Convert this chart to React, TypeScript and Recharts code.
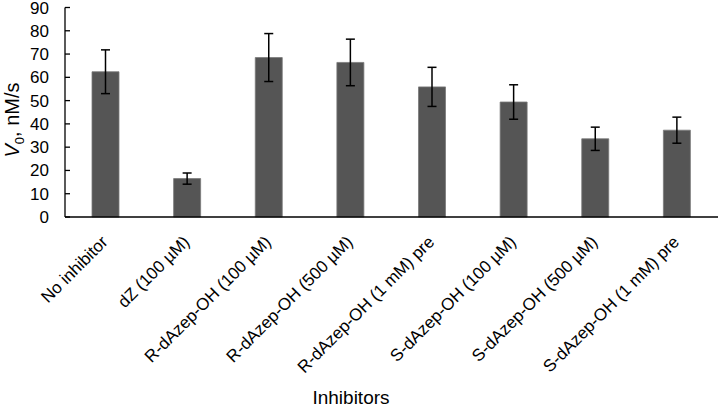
import React from 'react';
import { BarChart, Bar, XAxis, YAxis, ErrorBar, Label } from 'recharts';

const categories = [
  'No inhibitor',
  'dZ (100 µM)',
  'R-dAzep-OH (100 µM)',
  'R-dAzep-OH (500 µM)',
  'R-dAzep-OH (1 mM) pre',
  'S-dAzep-OH (100 µM)',
  'S-dAzep-OH (500 µM)',
  'S-dAzep-OH (1 mM) pre',
];
const v0Values = [62.4, 16.5, 68.5, 66.4, 55.9, 49.4, 33.6, 37.3];
const v0Errors = [9.4, 2.4, 10.3, 10.0, 8.4, 7.4, 5.0, 5.6];
const yTicks = [0, 10, 20, 30, 40, 50, 60, 70, 80, 90];

const data = categories.map((name, i) => ({ name, v0: v0Values[i], err: v0Errors[i] }));

const FONT = '"Liberation Sans", Arial, sans-serif';

const XTick = (props: any) => {
  const { x, y, payload } = props;
  const tx = x + 3;
  const ty = y + 26;
  return (
    <text
      x={tx}
      y={ty}
      transform={`rotate(-45, ${tx}, ${ty})`}
      textAnchor="end"
      fontSize={17}
      fontFamily={FONT}
      fill="#000"
    >
      {payload.value}
    </text>
  );
};

const YTitle = () => (
  <text
    x={0}
    y={0}
    transform="translate(18.5, 120) rotate(-90)"
    textAnchor="middle"
    fontSize={20}
    fontFamily={FONT}
    fill="#000"
  >
    <tspan fontStyle="italic">V</tspan>
    <tspan fontSize={13} dy={5}>0</tspan>
    <tspan dy={-5}>, nM/s</tspan>
  </text>
);

const XTitle = () => (
  <text x={351} y={404} textAnchor="middle" fontSize={19} fontFamily={FONT} fill="#000">
    Inhibitors
  </text>
);

export default function App() {
  return (
    <div style={{ position: 'absolute', left: 0, top: 0, width: 720, height: 409, background: '#fff' }}>
      <BarChart width={720} height={409} data={data} margin={{ top: 7.5, right: 2, left: 0, bottom: 0 }}>
        <XAxis
          dataKey="name"
          height={192}
          interval={0}
          tickLine={false}
          tickSize={0}
          tickMargin={0}
          axisLine={{ stroke: '#000', strokeWidth: 1.5 }}
          tick={<XTick />}
        >
          <Label content={<XTitle />} />
        </XAxis>
        <YAxis
          width={65}
          domain={[0, 90]}
          ticks={yTicks}
          interval={0}
          tickSize={-5}
          tickMargin={21}
          axisLine={{ stroke: '#000', strokeWidth: 1.3 }}
          tickLine={{ stroke: '#000', strokeWidth: 1.3 }}
          tick={{ fontSize: 17, fontFamily: FONT, fill: '#000' }}
        >
          <Label content={<YTitle />} />
        </YAxis>
        <Bar dataKey="v0" fill="#555555" stroke="#7a7a7a" strokeWidth={0.8} barSize={27} isAnimationActive={false}>
          <ErrorBar dataKey="err" width={4.5} stroke="#000" strokeWidth={1.5} direction="y" />
        </Bar>
      </BarChart>
    </div>
  );
}
